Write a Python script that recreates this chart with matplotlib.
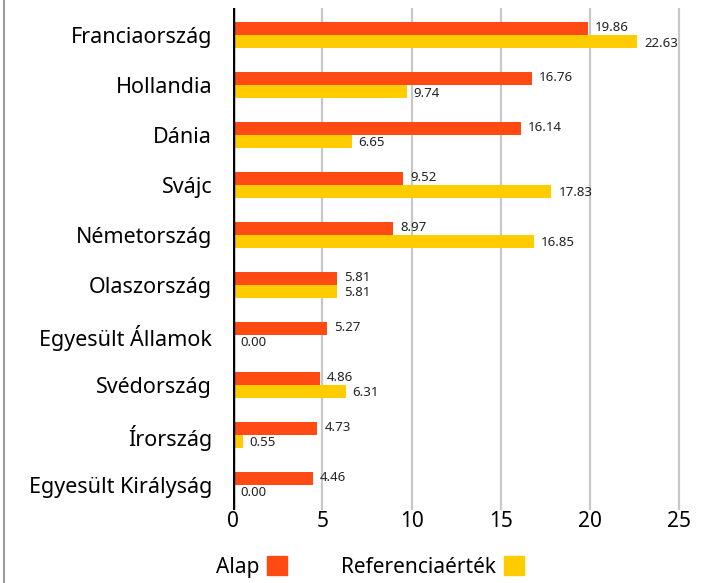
import matplotlib
matplotlib.use("Agg")
import matplotlib.pyplot as plt
from matplotlib.lines import Line2D
from matplotlib.patches import Patch
import numpy as np

plt.rcParams['font.family'] = ['Noto Sans', 'DejaVu Sans']

categories = ["Franciaország", "Hollandia", "Dánia", "Svájc", "Németország",
              "Olaszország", "Egyesült Államok", "Svédország", "Írország",
              "Egyesült Királyság"]
alap = [19.86, 16.76, 16.14, 9.52, 8.97, 5.81, 5.27, 4.86, 4.73, 4.46]
referencia = [22.63, 9.74, 6.65, 17.83, 16.85, 5.81, 0.00, 6.31, 0.55, 0.00]
xticks = [0, 5, 10, 15, 20, 25]
series_names = ["Alap", "Referenciaérték"]

c_orange = "#FF4A14"
c_yellow = "#FFCC00"

fig = plt.figure(figsize=(7.03, 5.83), dpi=100)
ax = fig.add_axes([233/703, 1-510/583, 450/703, 502/583])

y = np.arange(len(categories))
h = 0.26
ax.barh(y - h/2, alap, height=h, color=c_orange, zorder=3)
ax.barh(y + h/2, referencia, height=h, color=c_yellow, zorder=3)

for yi, v in zip(y, alap):
    ax.annotate(f"{v:.2f}", (v, yi - h/2), xytext=(5, 0.8), textcoords="offset points",
                va="center", ha="left", fontsize=9.5, color="#222222")
for yi, v in zip(y, referencia):
    ax.annotate(f"{v:.2f}", (v, yi + h/2), xytext=(5, -0.8), textcoords="offset points",
                va="center", ha="left", fontsize=9.5, color="#222222")

ax.set_xlim(0, 25.2)
ax.set_ylim(len(categories) - 0.5, -0.55)
ax.set_xticks(xticks)
ax.set_xticklabels([str(t) for t in xticks], fontsize=15)
ax.set_yticks(y)
ax.set_yticklabels(categories, fontsize=15.5)
ax.tick_params(axis='both', length=0)
ax.tick_params(axis='x', pad=1)
ax.tick_params(axis='y', pad=15)
for s in ax.spines.values():
    s.set_visible(False)
for t in xticks[1:]:
    ax.axvline(t, color="#c8c8c8", lw=1.6, zorder=1)
ax.axvline(0, color="black", lw=3.2, zorder=4)

handles = [Patch(color=c_orange), Patch(color=c_yellow)]
fig.legend(handles, series_names, loc="center", bbox_to_anchor=(370/703, 1-567/583),
           ncol=2, frameon=False, markerfirst=False, fontsize=15,
           handlelength=0.96, handleheight=0.96, handletextpad=0.35, columnspacing=2.6)

fig.add_artist(Line2D([4/703, 4/703], [0, 1], color="#9a9a9a", lw=1.5, transform=fig.transFigure))

fig.savefig("out.png", dpi=100)
